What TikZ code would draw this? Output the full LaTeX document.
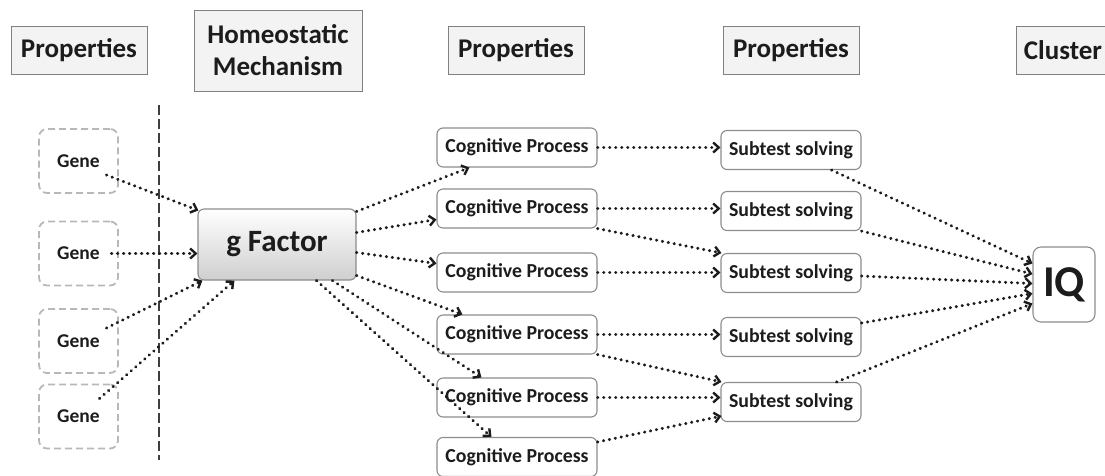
\documentclass[tikz,border=0pt]{standalone}
\usepackage{fontspec}
\setmainfont{Carlito}
\usetikzlibrary{arrows.meta,calc}
\definecolor{ink}{HTML}{1C1C1C}
\definecolor{hdgray}{HTML}{808080}
\definecolor{hdfill}{HTML}{F3F3F3}
\definecolor{boxgray}{HTML}{8C8C8C}
\definecolor{genegray}{HTML}{B8B8B8}
\definecolor{gfbot}{HTML}{CFCFCF}
\begin{document}
\begin{tikzpicture}[x=1pt,y=-1pt,
  head/.style={draw=hdgray, fill=hdfill, line width=1pt, inner sep=0pt, align=center,
    font=\fontsize{27}{32}\selectfont\bfseries, text=ink},
  gene/.style={draw=genegray, line width=1.8pt, dash pattern=on 7pt off 4pt, rounded corners=8pt,
    minimum width=79pt, minimum height=64pt, inner sep=0pt, font=\fontsize{19.5}{22}\selectfont\bfseries, text=ink},
  cpbox/.style={draw=boxgray, fill=white, line width=1.1pt, rounded corners=6pt, inner sep=0pt,
    minimum width=160pt, minimum height=39pt, font=\fontsize{19.8}{22}\selectfont\bfseries, text=ink},
  stbox/.style={cpbox, minimum width=140pt},
  conn/.style={draw=ink, line width=3.1pt, line cap=round, dash pattern=on 0.3pt off 5.7pt,
    -{Straight Barb[length=5.5pt,width=10pt,line width=2.4pt]}},
  sepline/.style={draw=ink!85, line width=1.2pt, dash pattern=on 10pt off 4pt}
]
\useasboundingbox (0,0) rectangle (1105,475);
% headers
\node[head, minimum width=136pt, minimum height=48pt] (h1) at (79,50) {Properties};
\node[head, minimum width=168pt, minimum height=81pt] (h2) at (278,50.5) {Homeostatic\\Mechanism};
\node[head, minimum width=136pt, minimum height=48pt] (h3) at (516,50) {Properties};
\node[head, minimum width=136pt, minimum height=48pt] (h4) at (791,50) {Properties};
\node[head, minimum width=94pt, minimum height=48pt] (h5) at (1063,50) {Cluster};
% separator
\coordinate (sepTop) at (159,105);
\coordinate (sepBot) at (159,460);
\draw[sepline] (sepTop) -- (sepBot);
% genes
\node[gene] (g1) at (78.5,161) {Gene};
\node[gene] (g2) at (78.5,253.5) {Gene};
\node[gene] (g3) at (78.5,341) {Gene};
\node[gene] (g4) at (78.5,416.5) {Gene};
% g factor
\node[draw=boxgray, line width=1.1pt, rounded corners=6pt, top color=white, bottom color=gfbot,
  minimum width=158pt, minimum height=71pt, inner sep=0pt,
  font=\fontsize{31}{34}\selectfont\bfseries, text=ink] (gf) at (277,244.5) {g Factor};
% cognitive processes
\node[cpbox] (cp1) at (517,147.5) {Cognitive Process};
\node[cpbox] (cp2) at (517,208.5) {Cognitive Process};
\node[cpbox] (cp3) at (517,272.5) {Cognitive Process};
\node[cpbox] (cp4) at (517,334.5) {Cognitive Process};
\node[cpbox] (cp5) at (517,397.5) {Cognitive Process};
\node[cpbox] (cp6) at (517,457) {Cognitive Process};
% subtests
\node[stbox] (st1) at (791,150) {Subtest solving};
\node[stbox] (st2) at (791,211) {Subtest solving};
\node[stbox] (st3) at (791,273) {Subtest solving};
\node[stbox] (st4) at (791,337) {Subtest solving};
\node[stbox] (st5) at (791,402) {Subtest solving};
% IQ
\node[draw=boxgray, fill=white, line width=1.1pt, rounded corners=8pt, minimum width=62pt, minimum height=75pt,
  inner sep=0pt, font=\fontsize{44}{48}\selectfont\bfseries, text=ink] (iq) at (1064,284.5) {IQ};
% genes -> g factor
\draw[conn] ($(g1.center)+(28,14)$) -- ($(gf.north west)+(1,2)$);
\draw[conn] ($(g2.center)+(33,0)$) -- ($(gf.west)+(0,9)$);
\draw[conn] ($(g3.center)+(28,-13)$) -- ($(gf.south west)+(5,0)$);
\draw[conn] ($(g4.center)+(21,-18)$) -- ($(gf.south west)+(37,0)$);
% g factor -> cognitive processes
\draw[conn] ($(gf.north east)+(0,3)$) -- ($(cp1.south west)+(33,0)$);
\draw[conn] ($(gf.east)+(0,-12)$) -- ($(cp2.west)+(0,11)$);
\draw[conn] ($(gf.east)+(0,8)$) -- ($(cp3.west)+(0,-9)$);
\draw[conn] ($(gf.south east)+(0,-5)$) -- ($(cp4.north west)+(26,0)$);
\draw[conn] ($(gf.south west)+(135,0)$) -- ($(cp5.north west)+(45,0)$);
\draw[conn] ($(gf.south west)+(119,0)$) -- ($(cp6.north west)+(55,0)$);
% cognitive processes -> subtests
\draw[conn] (cp1.east) -- (cp1.east -| st1.west);
\draw[conn] (cp2.east) -- (cp2.east -| st2.west);
\draw[conn] (cp2.south east) -- ($(st3.north west)+(1,0)$);
\draw[conn] (cp3.east) -- (cp3.east -| st3.west);
\draw[conn] (cp4.east) -- (cp4.east -| st4.west);
\draw[conn] (cp4.south east) -- ($(st5.north west)+(1,0)$);
\draw[conn] (cp5.east) -- (cp5.east -| st5.west);
\draw[conn] ($(cp6.north east)+(0,5)$) -- ($(st5.south west)+(1,-6)$);
% subtests -> IQ
\draw[conn] ($(st1.south east)+(-30,0)$) -- ($(iq.west)+(0,-21)$);
\draw[conn] (st2.south east) -- ($(iq.west)+(0,-10.5)$);
\draw[conn] ($(st3.east)+(0,3)$) -- ($(iq.west)+(0,-1)$);
\draw[conn] ($(st4.east)+(0,-14)$) -- ($(iq.west)+(0,9)$);
\draw[conn] ($(st5.north east)+(-25,0)$) -- ($(iq.west)+(0,19)$);
\end{tikzpicture}
\end{document}
